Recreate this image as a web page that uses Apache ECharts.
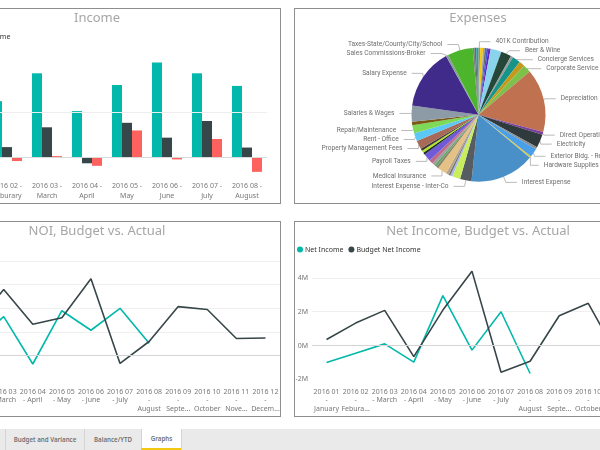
<!DOCTYPE html>
<html><head><meta charset="utf-8">
<script src="https://cdn.jsdelivr.net/npm/echarts@6/dist/echarts.min.js"></script>
<style>
html,body{margin:0;padding:0;width:600px;height:450px;overflow:hidden;background:#fff;font-family:'Noto Sans',sans-serif;}
.panel{position:absolute;border:1px solid #8e8e8e;width:366px;height:194px;background:#fff;}
.chart{position:absolute;left:0;top:0;width:366px;height:194px;}
#tabs{position:absolute;left:0;top:429px;width:600px;height:21px;background:#eaeaea;}
.tab{position:absolute;top:0;height:21px;line-height:21px;font-size:6.2px;font-weight:600;color:#707070;text-align:center;border-left:1px solid #d4d4d4;box-sizing:border-box;}
.tab.active{background:#fff;height:19px;line-height:20px;}
#uline{position:absolute;left:141px;top:448px;width:40px;height:2px;background:#F2C811;}
</style></head><body>
<div class="panel" style="left:-87px;top:8px"><div id="c1" class="chart"></div></div>
<div class="panel" style="left:294px;top:8px"><div id="c2" class="chart"></div></div>
<div class="panel" style="left:-87px;top:221px"><div id="c3" class="chart"></div></div>
<div class="panel" style="left:294px;top:221px"><div id="c4" class="chart"></div></div>
<div id="tabs">
  <div class="tab" style="left:5px;width:79px;">Budget and Variance</div>
  <div class="tab" style="left:84px;width:57px;">Balance/YTD</div>
  <div class="tab active" style="left:141px;width:40px;">Graphs</div>
  <div class="tab" style="left:181px;width:1px;"></div>
</div>
<div id="uline"></div>
<script>
// ---- data (values in millions) ----
var incomeLabels = ['2016 01 -\nJanuary','2016 02 -\nFeburary','2016 03 -\nMarch','2016 04 -\nApril','2016 05 -\nMay','2016 06 -\nJune','2016 07 -\nJuly','2016 08 -\nAugust'];
var monthLabels = ['2016 01\n-\nJanuary','2016 02\n-\nFebura…','2016 03\n- March','2016 04\n- April','2016 05\n- May','2016 06\n- June','2016 07\n- July','2016 08\n-\nAugust','2016 09\n-\nSepte…','2016 10\n-\nOctober','2016 11\n-\nNove…','2016 12\n-\nDecem…'];
var income    = [7.0, 6.2, 9.3, 5.1, 8.0, 10.5, 9.3, 7.9];
var noi       = [1.0, 1.1, 3.3, -0.7, 3.8, 2.15, 4.0, 1.05];
var netIncome = [-1.0, -0.45, 0.1, -0.98, 2.95, -0.27, 2.0, -1.65];
var budgetNoi = [3.2, 2.6, 5.6, 2.65, 3.2, 6.5, -0.65, 1.2, 4.15, 3.9, 1.45, 1.5];
var budgetNetIncome = [0.36, 1.33, 2.08, -0.65, 2.1, 4.4, -1.58, -0.93, 1.76, 2.5, -0.6, -0.5];

var expenseNames = ['401K Contribution','Accounting Fees','Advertising','Alarm Monitoring','Auto Expense','Bank Charges','Bar Supplies','Beer & Wine','Cable TV','Concierge Services','Contract Labor','Corporate Service Charges','Depreciation','Direct Operating Expenses','Electricity','Equipment Rental','Exterior Bldg. - Repairs','Hardware Supplies','Interest Expense','Interest Expense - Inter-Co','Internet Service','Janitorial Supplies','Landscaping','Laundry','Medical Insurance','Miscellaneous','Office Supplies','Outside Services','Parking','Payroll Taxes','Pest Control','Postage','Printing','Property Management Fees','Rent - Office','Repair/Maintenance','Room Supplies','Salaries & Wages','Salary Expense','Sales Commissions-Broker','Taxes-State/County/City/School','Telephone','Travel','Utilities'];
var expenseValues = [75,125,75,75,75,100,475,450,100,350,250,340,2760,125,575,100,375,75,2800,500,350,100,75,125,400,100,100,125,175,325,100,100,100,375,350,350,150,700,2650,100,1100,75,75,100];
var expenseColors = ['#FD625E','#F2C80F','#A3A3A3','#5F6B6D','#3A52D6','#6A1FC0','#8AD4EB','#24473A','#9A9A9A','#16948A','#C49A1E','#7DC14B','#C0714F','#7B3F9F','#2F3A3C','#8C8C8C','#4A9FE8','#D8C84A','#4A90C8','#565C61','#C8EE5E','#A9B6E6','#707070','#B8A58C','#E4C184','#8F7F6F','#5FA65F','#9E9E9E','#C06A8A','#6F5AD8','#1E2A30','#B5E61D','#3A3A3A','#A86A58','#5BC8F5','#7ED957','#7A5A14','#8D9BA6','#402A8A','#8C9AA0','#4DB52C','#7F7F7F','#5F6B6D','#1AA79C'];
var labeledExpenses = ['401K Contribution','Beer & Wine','Concierge Services','Corporate Service Charges','Depreciation','Direct Operating Expenses','Electricity','Exterior Bldg. - Repairs','Hardware Supplies','Interest Expense','Interest Expense - Inter-Co','Medical Insurance','Payroll Taxes','Property Management Fees','Rent - Office','Repair/Maintenance','Salaries & Wages','Salary Expense','Sales Commissions-Broker','Taxes-State/County/City/School'];

var TEAL='#01B8AA', DARK='#374649', RED='#FD625E';
var FONT='Noto Sans';
function title(t){return {text:t,left:'center',top:3,padding:0,textStyle:{fontSize:13,fontWeight:'normal',color:'#a6a6a6',fontFamily:FONT}};}
function legend(names, extra){var l={data:names,top:24,padding:0,itemWidth:6,itemHeight:6,itemGap:5,icon:'circle',textStyle:{fontSize:7,color:'#333',fontFamily:FONT,padding:[0,0,0,-3]}};for(var k in extra)l[k]=extra[k];return l;}
function zeroLine(color, vals){return {silent:true,symbol:'none',label:{show:false},animation:false,data:vals.map(function(v){return {yAxis:v,lineStyle:{color:v===0?color:'#eeeeee',type:'solid',width:1}};})};}

// ---- Income ----
var c1 = echarts.init(document.getElementById('c1'));
c1.setOption({
  animation:false,
  title:title('Income'),
  legend:legend(['Income','NOI','Net Income'],{left:-14,width:300}),
  grid:{left:33,width:320,top:40,bottom:28,outerBoundsMode:'none'},
  xAxis:{type:'category',data:incomeLabels,axisLine:{show:false},axisTick:{show:false},
    axisLabel:{interval:0,fontSize:7,lineHeight:10,margin:6,color:'#777',fontFamily:FONT}},
  yAxis:{type:'value',min:-2,max:12,show:false,splitLine:{show:false}},
  series:[
    {name:'grid',type:'line',data:[],z:1,markLine:zeroLine('#d9d9d9',[0,5])},
    {name:'Income',type:'bar',data:income,barWidth:10,barGap:'0%',itemStyle:{color:TEAL},z:3},
    {name:'NOI',type:'bar',data:noi,barWidth:10,barGap:'0%',itemStyle:{color:DARK},z:3},
    {name:'Net Income',type:'bar',data:netIncome,barWidth:10,barGap:'0%',itemStyle:{color:RED},z:3}
  ]
});

// ---- Expenses ----
var pieData = expenseNames.map(function(n,i){
  var show = labeledExpenses.indexOf(n) >= 0;
  return {name:n,value:expenseValues[i],itemStyle:{color:expenseColors[i]},label:{show:show},labelLine:{show:show}};
});
var c2 = echarts.init(document.getElementById('c2'));
c2.setOption({
  animation:false,
  title:title('Expenses'),
  series:[{type:'pie',center:[183.5,105.7],radius:67,startAngle:90,clockwise:true,data:pieData,
    avoidLabelOverlap:true,
    label:{position:'outside',fontSize:6.6,color:'#6e6e6e',fontFamily:'Roboto'},
    labelLine:{length:6,length2:11,lineStyle:{color:'#aaaaaa',width:0.8}},
    emphasis:{disabled:true}}]
});

// ---- line charts ----
function lineOpt(t, names, a, b, yMin, yMax, showLegend){
  return {
    animation:false,
    title:title(t),
    legend:legend(names,{left:2,show:showLegend}),
    grid:{left:17,right:0,top:39,bottom:36.6,outerBoundsMode:'none'},
    xAxis:{type:'category',data:monthLabels,axisLine:{show:false},axisTick:{show:false},
      axisLabel:{interval:0,fontSize:7,lineHeight:8.7,margin:8,color:'#777',fontFamily:FONT}},
    yAxis:{type:'value',min:yMin,max:yMax,interval:2,
      axisLabel:{formatter:'{value}M',fontSize:7,color:'#777',margin:4,fontFamily:FONT,showMaxLabel:(yMax%2===0)},
      axisLine:{show:false},axisTick:{show:false},
      splitLine:{showMinLine:false,showMaxLine:(yMax%2===0),lineStyle:{color:'#efefef'}}},
    series:[
      {name:names[0],type:'line',data:a,symbol:'none',lineStyle:{color:TEAL,width:1.6},itemStyle:{color:TEAL},z:3,
        markLine:zeroLine('#d4d4d4',[0])},
      {name:names[1],type:'line',data:b,symbol:'none',lineStyle:{color:DARK,width:1.6},itemStyle:{color:DARK},z:3}
    ]
  };
}
var c3 = echarts.init(document.getElementById('c3'));
c3.setOption(lineOpt('NOI, Budget vs. Actual',['NOI','Budget NOI'],noi,budgetNoi,-2,8,true));
var c4 = echarts.init(document.getElementById('c4'));
c4.setOption(lineOpt('Net Income, Budget vs. Actual',['Net Income','Budget Net Income'],netIncome,budgetNetIncome,-2,5,true));
</script>
</body></html>
